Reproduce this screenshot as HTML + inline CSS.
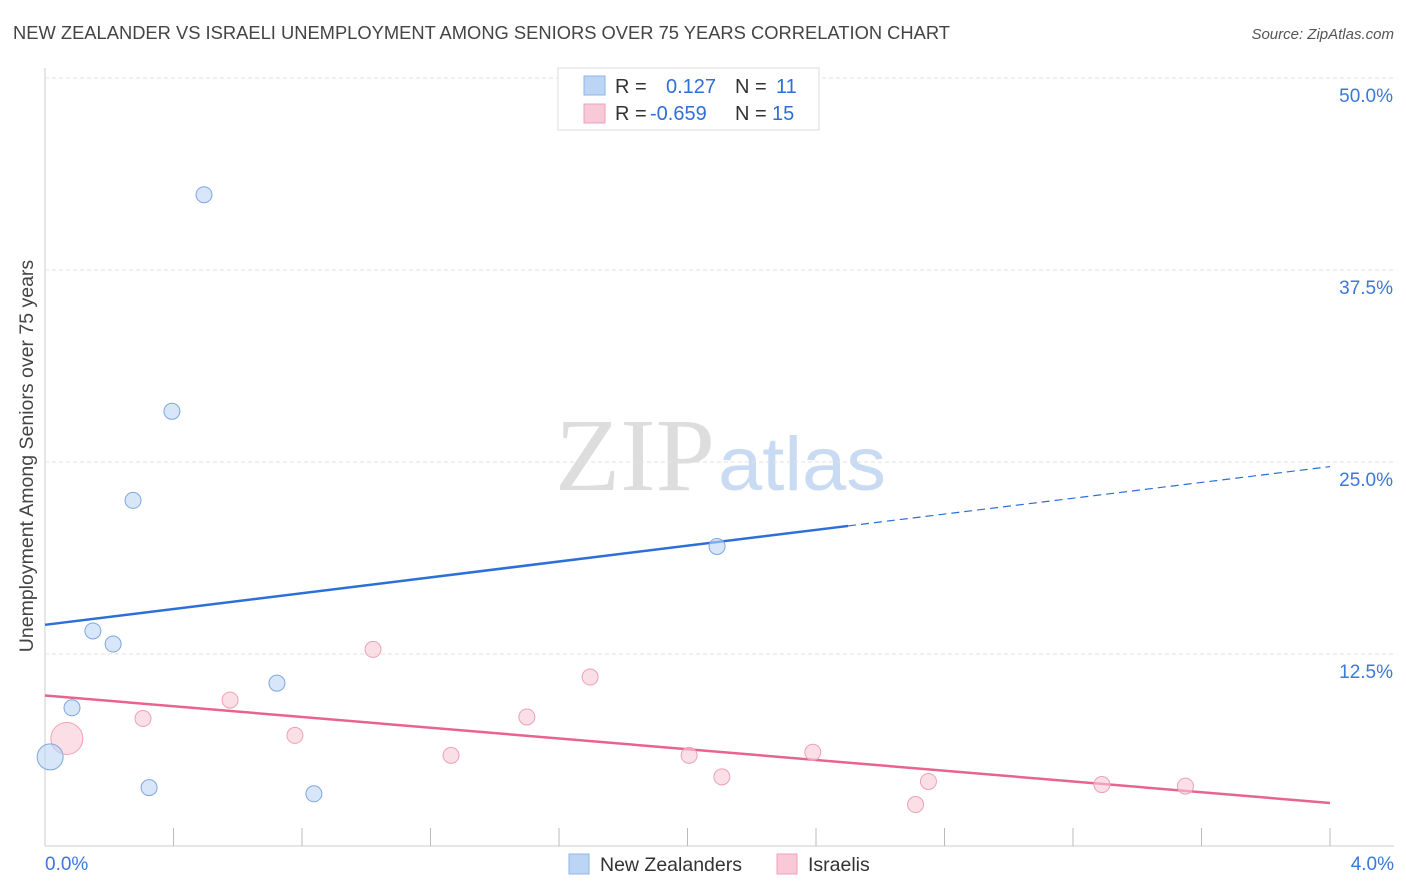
<!DOCTYPE html>
<html><head><meta charset="utf-8"><style>
body{margin:0;background:#fff;font-family:"Liberation Sans",sans-serif;}
svg{display:block}
</style></head><body>
<svg id="chart" width="1406" height="892">
<text x="13" y="39" font-size="18.5" fill="#444" textLength="937" lengthAdjust="spacingAndGlyphs">NEW ZEALANDER VS ISRAELI UNEMPLOYMENT AMONG SENIORS OVER 75 YEARS CORRELATION CHART</text>
<text x="1394" y="39" font-size="15" fill="#555" font-style="italic" text-anchor="end">Source: ZipAtlas.com</text>
<text x="555" y="490" font-size="104" fill="#ddd" textLength="160" lengthAdjust="spacingAndGlyphs" font-family="Liberation Serif,serif">ZIP</text>
<text x="718" y="490" font-size="76" fill="#c9daf3" textLength="168" lengthAdjust="spacingAndGlyphs">atlas</text>
<text transform="translate(33,456) rotate(-90)" font-size="19.5" fill="#444" text-anchor="middle">Unemployment Among Seniors over 75 years</text>
<g id="grid"></g><g id="lines"></g><g id="pts"></g>
<g>
<rect x="558" y="68" width="261" height="62" fill="#fff" stroke="#ddd"/>
<rect x="584" y="76" width="21" height="19" fill="#bcd5f5" stroke="#8fb4e8"/>
<rect x="584" y="104" width="21" height="19" fill="#f9c9d7" stroke="#eea0b8"/>
<text x="615" y="93" font-size="20" fill="#333">R = <tspan x="666" fill="#2f6fd6">0.127</tspan><tspan x="735" fill="#333">N = </tspan><tspan x="776" fill="#2f6fd6">11</tspan></text>
<text x="615" y="120" font-size="20" fill="#333">R = <tspan x="650" fill="#2f6fd6">-0.659</tspan><tspan x="735" fill="#333">N = </tspan><tspan x="772" fill="#2f6fd6">15</tspan></text>
</g>
<g>
<rect x="569" y="854" width="20" height="20" fill="#bcd5f5" stroke="#8fb4e8"/>
<text x="600" y="871" font-size="19.5" fill="#333">New Zealanders</text>
<rect x="777" y="854" width="20" height="20" fill="#f9c9d7" stroke="#eea0b8"/>
<text x="808" y="871" font-size="19.5" fill="#333">Israelis</text>
</g>
<text x="45" y="870" font-size="19" fill="#3b78d8">0.0%</text>
<text x="1394" y="870" font-size="19" fill="#3b78d8" text-anchor="end">4.0%</text>
</svg>
<script>
const yTicks=[50,37.5,25,12.5];
const yTickLabels=["50.0%","37.5%","25.0%","12.5%"];
const nzX=[0.495,0.395,0.274,2.092,0.149,0.212,0.722,0.084,0.016,0.324,0.837];
const nzY=[42.4,28.3,22.5,19.5,14.0,13.15,10.6,9.0,5.8,3.8,3.4];
const nzR=[8,8,8,8,8,8,8,8,13,8,8];
const ilX=[1.021,1.697,0.576,0.305,1.50,0.068,0.778,1.264,2.005,2.39,2.107,2.75,2.71,3.29,3.55];
const ilY=[12.8,11.0,9.5,8.3,8.4,7.0,7.2,5.9,5.9,6.1,4.5,4.2,2.7,4.0,3.9];
const ilR=[8,8,8,8,8,16,8,8,8,8,8,8,8,8,8];
const nzTrend=[14.4,24.7];
const ilTrend=[9.8,2.8];
const nzSolidEnd=2.5;
const X=v=>45+v/4*1285, Y=v=>846-v*15.36;
const NS="http://www.w3.org/2000/svg";
function mk(p,t,a){const e=document.createElementNS(NS,t);for(const k in a)e.setAttribute(k,a[k]);p.appendChild(e);return e;}
const g=document.getElementById('grid');
const ax=mk(g,'line',{x1:45,x2:45,y1:68,y2:846,stroke:'#ccc'});


const xa=mk(g,'line',{x1:45,x2:1394,y1:846,y2:846,stroke:'#ccc'});


yTicks.forEach((t,i)=>{
 const l=mk(g,'line',{x1:45,x2:1394,y1:Y(t),y2:Y(t),stroke:'#e2e2e2','stroke-dasharray':'4,3'});
 
 
 const tx=mk(g,'text',{x:1393,y:Y(t)+24,'font-size':19,fill:'#3b78d8','text-anchor':'end'});
 tx.textContent=yTickLabels[i];
 
 
});
for(let i=1;i<=10;i++){
 const t=mk(g,'line',{x1:X(i*0.4),x2:X(i*0.4),y1:828,y2:846,stroke:'#bbb'});
 
 
}
const L=document.getElementById('lines');
const slope=(nzTrend[1]-nzTrend[0])/4;
const b1=mk(L,'line',{x1:X(0),y1:Y(nzTrend[0]),x2:X(nzSolidEnd),y2:Y(nzTrend[0]+slope*nzSolidEnd),stroke:'#2c6fd8','stroke-width':2.5});


const b2=mk(L,'line',{x1:X(nzSolidEnd),y1:Y(nzTrend[0]+slope*nzSolidEnd),x2:X(4),y2:Y(nzTrend[1]),stroke:'#2c6fd8','stroke-width':1.2,'stroke-dasharray':'8,5'});


const p1=mk(L,'line',{x1:X(0),y1:Y(ilTrend[0]),x2:X(4),y2:Y(ilTrend[1]),stroke:'#e8638e','stroke-width':2.5});


const P=document.getElementById('pts');
ilX.forEach((x,i)=>{
 const c=mk(P,'circle',{cx:X(x),cy:Y(ilY[i]),r:ilR[i],fill:'rgba(249,201,215,0.6)',stroke:'#eea0b8','stroke-width':1});
 
 
});
nzX.forEach((x,i)=>{
 const c=mk(P,'circle',{cx:X(x),cy:Y(nzY[i]),r:nzR[i],fill:'rgba(188,213,245,0.6)',stroke:'#7fa6e0','stroke-width':1});
 
 
});
</script>
</body></html>
